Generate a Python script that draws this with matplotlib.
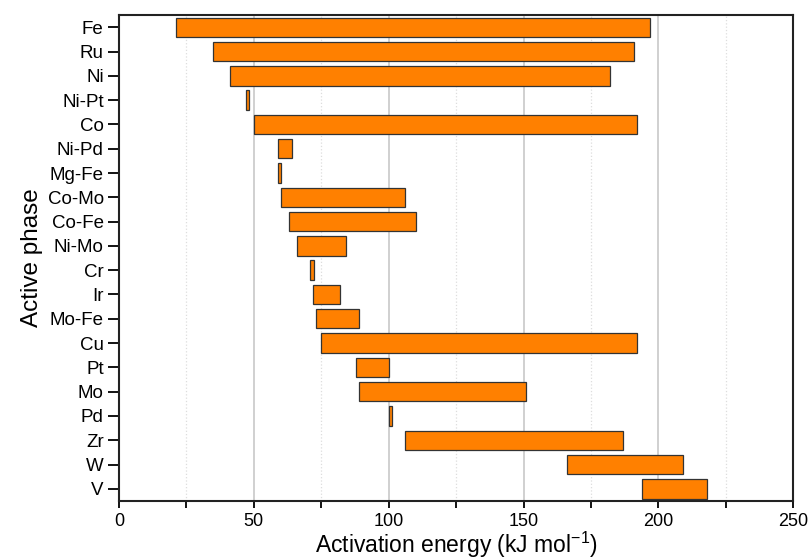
import matplotlib.pyplot as plt
import numpy as np
from matplotlib.ticker import MultipleLocator

plt.rcParams['font.family'] = ['Liberation Sans', 'DejaVu Sans']
plt.rcParams['mathtext.default'] = 'regular'

# Activation energy ranges (kJ/mol) per active phase, top to bottom
phases = ['Fe', 'Ru', 'Ni', 'Ni-Pt', 'Co', 'Ni-Pd', 'Mg-Fe', 'Co-Mo', 'Co-Fe', 'Ni-Mo',
          'Cr', 'Ir', 'Mo-Fe', 'Cu', 'Pt', 'Mo', 'Pd', 'Zr', 'W', 'V']
ea_min = [21, 35, 41, 47, 50, 59, 59, 60, 63, 66,
          71, 72, 73, 75, 88, 89, 100, 106, 166, 194]
ea_max = [197, 191, 182, 48.2, 192, 64, 60.2, 106, 110, 84,
          72.2, 82, 89, 192, 100, 151, 101.3, 187, 209, 218]

fig = plt.figure(figsize=(8.11, 5.6), dpi=100)
ax = fig.add_axes([0.1467, 0.1054, 0.8315, 0.8676])

y = np.arange(len(phases))
widths = np.array(ea_max) - np.array(ea_min)
ax.barh(y, widths, left=ea_min, height=0.8, color='#FF8000',
        edgecolor='#333333', linewidth=0.9, zorder=3)

ax.set_yticks(y)
ax.set_yticklabels(phases, fontsize=13.5)
ax.set_ylim(19.5, -0.5)

ax.set_xlim(0, 250)
ax.xaxis.set_major_locator(MultipleLocator(50))
ax.xaxis.set_minor_locator(MultipleLocator(25))
ax.tick_params(axis='x', which='major', labelsize=13, length=5, width=1.3, direction='out')
ax.tick_params(axis='x', which='minor', length=5, width=1.3, direction='out')
ax.tick_params(axis='y', length=8, width=1.3, direction='out', pad=3)

ax.grid(True, axis='x', which='major', color='#c8c8c8', linewidth=1.2, zorder=0)
ax.grid(True, axis='x', which='minor', color='#dddddd', linestyle=':', linewidth=0.9, zorder=0)

for s in ax.spines.values():
    s.set_linewidth(1.5)
    s.set_color('#222222')

ax.set_xlabel('Activation energy (kJ mol$^{-1}$)', fontsize=16.5, labelpad=0)
ax.set_ylabel('Active phase', fontsize=17.5, labelpad=3)

plt.savefig('out.png', dpi=100)
